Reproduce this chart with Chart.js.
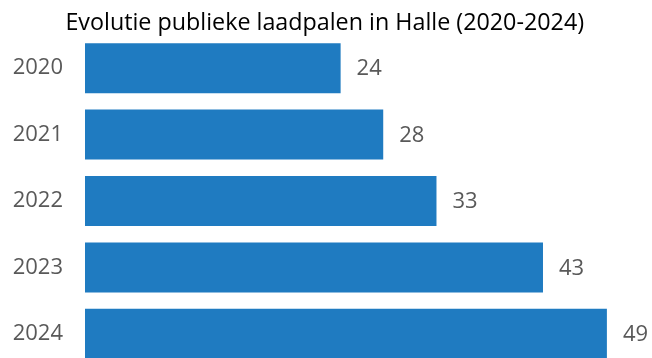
<!DOCTYPE html>
<html>
<head>
<meta charset="utf-8">
<script src="https://cdn.jsdelivr.net/npm/chart.js@4/dist/chart.umd.min.js"></script>
<style>
    html, body { margin: 0; padding: 0; background: #fff; overflow: hidden; }
    #wrap { position: relative; width: 652px; height: 370px; }
</style>
</head>
<body>
<div id="wrap"><canvas id="chart"></canvas></div>
<script>
// Chart data
const years = ['2020', '2021', '2022', '2023', '2024'];
const chargers = [24, 28, 33, 43, 49];
const chartTitle = 'Evolutie publieke laadpalen in Halle (2020-2024)';

// Draw the value next to each bar
const valueLabels = {
    id: 'valueLabels',
    afterDatasetsDraw(chart) {
        const ctx = chart.ctx;
        const meta = chart.getDatasetMeta(0);
        ctx.save();
        ctx.font = '22px "Open Sans", sans-serif';
        ctx.fillStyle = '#595959';
        ctx.textAlign = 'left';
        ctx.textBaseline = 'middle';
        meta.data.forEach((bar, i) => {
            ctx.fillText(chargers[i], bar.x + 16, bar.y + 1);
        });
        ctx.restore();
    }
};

new Chart(document.getElementById('chart').getContext('2d'), {
    type: 'bar',
    data: {
        labels: years,
        datasets: [{
            data: chargers,
            backgroundColor: '#1f7bc1',
            borderWidth: 0,
            barPercentage: 0.753,
            categoryPercentage: 1
        }]
    },
    options: {
        indexAxis: 'y',
        responsive: true,
        maintainAspectRatio: false,
        animation: false,
        devicePixelRatio: 1,
        layout: { padding: { left: 0, right: 2.5, top: 0, bottom: 3 } },
        scales: {
            x: { display: false, min: 0, max: 53 },
            y: {
                grid: { display: false, drawTicks: false },
                border: { display: false },
                ticks: {
                    color: '#595959',
                    font: { family: '"Open Sans", sans-serif', size: 22 },
                    padding: 22
                },
                afterFit(scale) {
                    // fixed axis width, and no extra space above/below the bars
                    scale.width = 85;
                    scale.paddingTop = 0;
                    scale.paddingBottom = 0;
                }
            }
        },
        plugins: {
            legend: { display: false },
            tooltip: { enabled: false },
            title: {
                display: true,
                text: chartTitle,
                color: '#000',
                font: { family: '"Open Sans", sans-serif', size: 23.3, weight: 'normal', lineHeight: 1.2 },
                padding: { top: 9, bottom: -2 }
            }
        }
    },
    plugins: [valueLabels]
});
</script>
</body>
</html>
